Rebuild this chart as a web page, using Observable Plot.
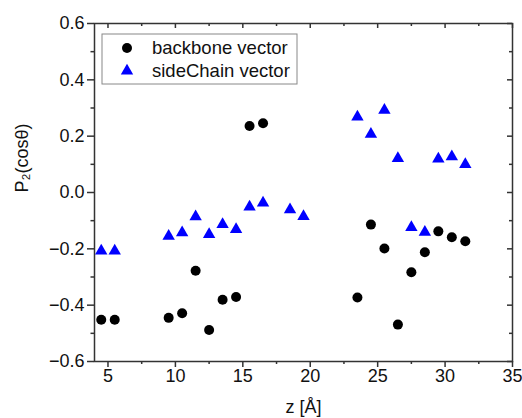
<!DOCTYPE html>
<html>
<head>
<meta charset="utf-8">
<script src="https://cdn.jsdelivr.net/npm/d3@7"></script>
<script src="https://cdn.jsdelivr.net/npm/@observablehq/plot@0.6"></script>
<style>
  html, body { margin: 0; padding: 0; background: #fff; }
  #chart svg { display: block; }
</style>
</head>
<body>
<div id="chart"></div>
<script>
// ---- data ----
const backboneZ = [4.5, 5.5, 9.5, 10.5, 11.5, 12.5, 13.5, 14.5, 15.5, 16.5, 23.5, 24.5, 25.5, 26.5, 27.5, 28.5, 29.5, 30.5, 31.5];
const backboneP2 = [-0.452, -0.452, -0.445, -0.429, -0.278, -0.488, -0.381, -0.371, 0.236, 0.246, -0.373, -0.114, -0.199, -0.469, -0.283, -0.212, -0.138, -0.159, -0.173];
const sideChainZ = [4.5, 5.5, 9.5, 10.5, 11.5, 12.5, 13.5, 14.5, 15.5, 16.5, 18.5, 19.5, 23.5, 24.5, 25.5, 26.5, 27.5, 28.5, 29.5, 30.5, 31.5];
const sideChainP2 = [-0.207, -0.207, -0.155, -0.143, -0.086, -0.149, -0.113, -0.131, -0.051, -0.037, -0.061, -0.085, 0.268, 0.207, 0.292, 0.121, -0.124, -0.141, 0.119, 0.127, 0.100];
const seriesNames = ["backbone vector", "sideChain vector"];
const xMajorTicks = [5, 10, 15, 20, 25, 30, 35];
const xMinorTicks = [7.5, 12.5, 17.5, 22.5, 27.5, 32.5];
const yMajorTicks = [-0.6, -0.4, -0.2, 0.0, 0.2, 0.4, 0.6];
const yMinorTicks = [-0.5, -0.3, -0.1, 0.1, 0.3, 0.5];
const xLabel = "z [Å]";
const yLabel = "P₂(cosθ)";

const backbone = backboneZ.map((z, i) => ({z, p: backboneP2[i]}));
const sideChain = sideChainZ.map((z, i) => ({z, p: sideChainP2[i]}));

const W = 522, H = 418;
const mT = 23, mB = 57, mL = 94, mR = 10;
const plotH = H - mT - mB, plotW = W - mL - mR;
const axisColor = "#333";
const font = "Liberation Sans, Arial, sans-serif";

function legend(index, scales, values, dims) {
  const g = d3.create("svg:g");
  const x0 = dims.marginLeft + 8, y0 = dims.marginTop + 11;
  g.append("rect").attr("x", x0).attr("y", y0).attr("width", 195).attr("height", 50)
    .attr("fill", "white").attr("stroke", "#888").attr("stroke-width", 1);
  const items = [
    {name: seriesNames[0], sym: d3.symbolCircle, r: 5, color: "black"},
    {name: seriesNames[1], sym: d3.symbolTriangle, r: 4.6, color: "#0000ff"}
  ];
  items.forEach((it, i) => {
    const cy = y0 + 14 + i * 23;
    g.append("path").attr("d", d3.symbol(it.sym, Math.PI * it.r * it.r)())
      .attr("transform", `translate(${x0 + 25},${cy})`).attr("fill", it.color);
    g.append("text").attr("x", x0 + 50).attr("y", cy).attr("dy", "0.35em")
      .attr("text-anchor", "start")
      .attr("font-size", 18.5).attr("font-family", font).attr("fill", "#111").text(it.name);
  });
  return g.node();
}

const chart = Plot.plot({
  width: W, height: H,
  marginTop: mT, marginBottom: mB, marginLeft: mL, marginRight: mR,
  style: {fontFamily: font, fontSize: "18px", color: "#111", background: "white"},
  x: {domain: [4, 35]},
  y: {domain: [-0.6, 0.6]},
  marks: [
    // bottom axis (outward ticks)
    Plot.axisX({ticks: xMajorTicks, tickSize: 6, tickPadding: 2, stroke: axisColor, strokeWidth: 1.5, fontSize: 18, label: null, tickFormat: d => String(d)}),
    Plot.axisX({ticks: xMinorTicks, tickSize: 3, stroke: axisColor, strokeWidth: 1.5, text: null, label: null}),
    // left axis (outward ticks)
    Plot.axisY({ticks: yMajorTicks, tickSize: 7, tickPadding: 3, stroke: axisColor, strokeWidth: 1.5, fontSize: 18, label: null, tickFormat: d3.format(".1f")}),
    Plot.axisY({ticks: yMinorTicks, tickSize: 3.5, stroke: axisColor, strokeWidth: 1.5, text: null, label: null}),
    // top axis (inward ticks)
    Plot.tickX(xMajorTicks, {x: d => d, insetBottom: plotH - 5, stroke: axisColor, strokeWidth: 1.5}),
    Plot.tickX(xMinorTicks, {x: d => d, insetBottom: plotH - 3, stroke: axisColor, strokeWidth: 1.5}),
    // right axis (inward ticks)
    Plot.tickY(yMajorTicks, {y: d => d, insetLeft: plotW - 5, stroke: axisColor, strokeWidth: 1.5}),
    Plot.tickY(yMinorTicks, {y: d => d, insetLeft: plotW - 3, stroke: axisColor, strokeWidth: 1.5}),
    Plot.frame({stroke: axisColor, strokeWidth: 1.5}),
    // data
    Plot.dot(sideChain, {x: "z", y: "p", symbol: "triangle", r: 4.6, fill: "#0000ff", stroke: null}),
    Plot.dot(backbone, {x: "z", y: "p", symbol: "circle", r: 5, fill: "black", stroke: null}),
    // axis labels
    Plot.text([xLabel], {frameAnchor: "bottom", dy: 39, fontSize: 18, fill: "#111", lineAnchor: "top"}),
    Plot.text([yLabel], {frameAnchor: "left", dx: -72, rotate: -90, fontSize: 18, fill: "#111"}),
    legend
  ]
});
document.getElementById("chart").appendChild(chart);
</script>
</body>
</html>
